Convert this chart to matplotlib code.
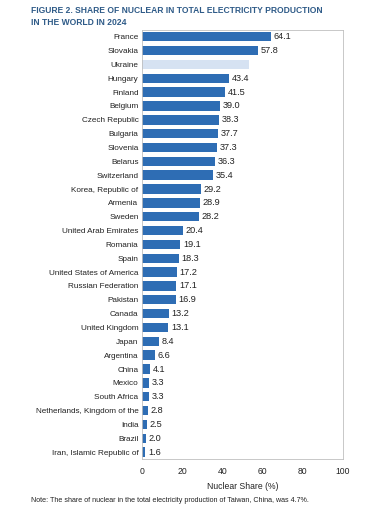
import matplotlib
matplotlib.use("Agg")
import matplotlib.pyplot as plt
import numpy as np

plt.rcParams['font.family'] = ['Liberation Sans', 'DejaVu Sans']

countries = ["France", "Slovakia", "Ukraine", "Hungary", "Finland", "Belgium",
             "Czech Republic", "Bulgaria", "Slovenia", "Belarus", "Switzerland",
             "Korea, Republic of", "Armenia", "Sweden", "United Arab Emirates",
             "Romania", "Spain", "United States of America", "Russian Federation",
             "Pakistan", "Canada", "United Kingdom", "Japan", "Argentina", "China",
             "Mexico", "South Africa", "Netherlands, Kingdom of the", "India",
             "Brazil", "Iran, Islamic Republic of"]
shares = [64.1, 57.8, 53.2, 43.4, 41.5, 39.0, 38.3, 37.7, 37.3, 36.3, 35.4,
          29.2, 28.9, 28.2, 20.4, 19.1, 18.3, 17.2, 17.1, 16.9, 13.2, 13.1,
          8.4, 6.6, 4.1, 3.3, 3.3, 2.8, 2.5, 2.0, 1.6]
labelled = [True, True, False] + [True] * 28

fig = plt.figure(figsize=(3.84, 5.14), dpi=100)
ax = fig.add_axes([0.37, 0.107, 0.523, 0.835])

y = np.arange(len(countries))
colours = ["#2E6DB4" if show else "#D6E2F2" for show in labelled]
ax.barh(y, shares, height=0.68, color=colours)
for yi, v, show in zip(y, shares, labelled):
    if show:
        ax.text(v + 1.3, yi, f"{v:.1f}", va="center", ha="left", fontsize=6.6, color="#222222")

ax.set_ylim(len(countries) - 0.5, -0.5)
ax.set_xlim(0, 100)
ax.set_yticks(y)
ax.set_yticklabels(countries, fontsize=5.9, color="#222222")
ax.set_xticks([0, 20, 40, 60, 80, 100])
ax.tick_params(axis="x", labelsize=6.2, length=0, pad=6, colors="#222222")
ax.tick_params(axis="y", length=0, pad=2.5)
for s in ax.spines.values():
    s.set_color("#BFBFBF")
    s.set_linewidth(0.6)
ax.set_xlabel("Nuclear Share (%)", fontsize=6.2, color="#222222", labelpad=4)

fig.text(0.081, 0.988, "FIGURE 2. SHARE OF NUCLEAR IN TOTAL ELECTRICITY PRODUCTION\nIN THE WORLD IN 2024",
         fontsize=6.15, fontweight="bold", color="#2F5B88", va="top", ha="left", linespacing=1.45)
fig.text(0.081, 0.026, "Note: The share of nuclear in the total electricity production of Taiwan, China, was 4.7%.",
         fontsize=5.1, color="#222222", va="center", ha="left")

fig.savefig("out.png", dpi=100)
